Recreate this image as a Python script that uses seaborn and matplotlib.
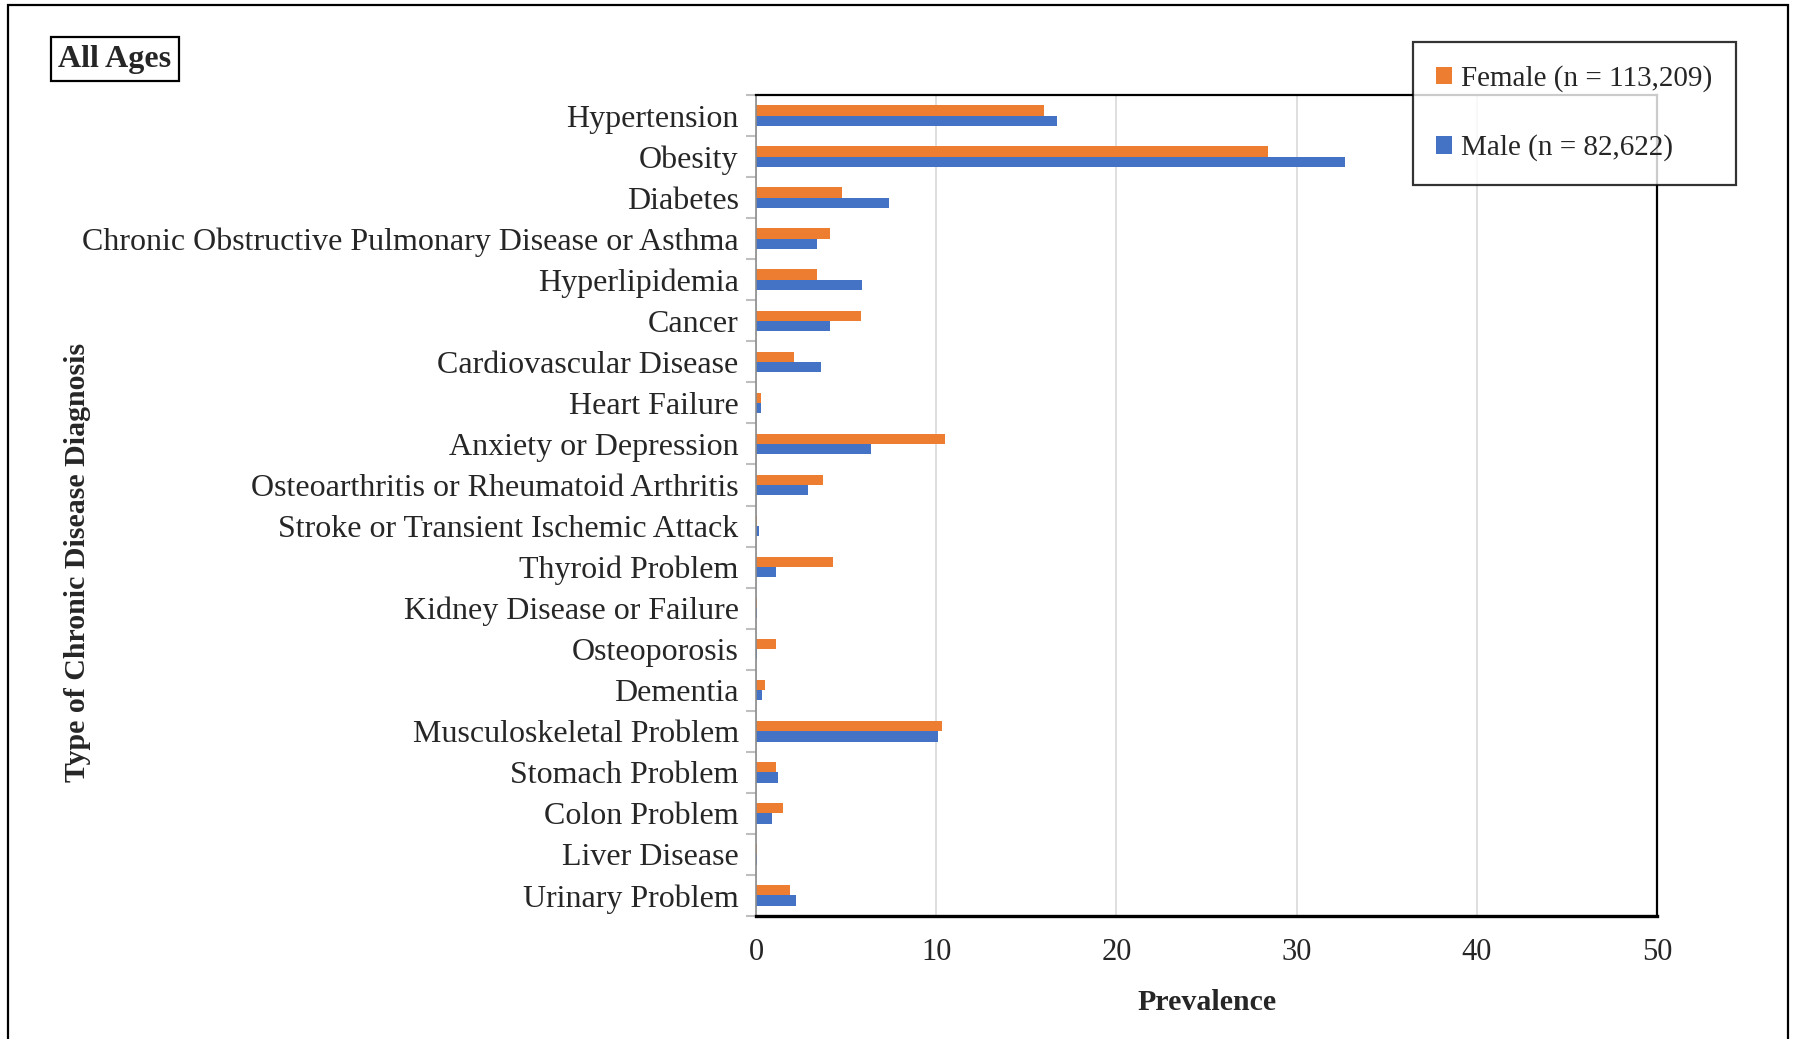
import numpy as np
import pandas as pd
import matplotlib
matplotlib.use("Agg")
import matplotlib.pyplot as plt
import seaborn as sns
from matplotlib.patches import Rectangle

# data
diagnoses = [
    "Hypertension", "Obesity", "Diabetes",
    "Chronic Obstructive Pulmonary Disease or Asthma", "Hyperlipidemia",
    "Cancer", "Cardiovascular Disease", "Heart Failure",
    "Anxiety or Depression", "Osteoarthritis or Rheumatoid Arthritis",
    "Stroke or Transient Ischemic Attack", "Thyroid Problem",
    "Kidney Disease or Failure", "Osteoporosis", "Dementia",
    "Musculoskeletal Problem", "Stomach Problem", "Colon Problem",
    "Liver Disease", "Urinary Problem",
]
female = [16.0, 28.4, 4.8, 4.1, 3.4, 5.8, 2.1, 0.25, 10.5, 3.7,
          0.06, 4.3, 0.08, 1.1, 0.5, 10.3, 1.1, 1.5, 0.04, 1.9]
male = [16.7, 32.7, 7.4, 3.4, 5.9, 4.1, 3.6, 0.25, 6.4, 2.9,
        0.15, 1.1, 0.08, 0.08, 0.35, 10.1, 1.2, 0.9, 0.08, 2.2]
groups = ["Female (n = 113,209)", "Male (n = 82,622)"]
colors = ["#ED7D31", "#4472C4"]

df = pd.DataFrame({
    "diagnosis": diagnoses * 2,
    "prevalence": female + male,
    "group": [groups[0]] * len(diagnoses) + [groups[1]] * len(diagnoses),
})

sns.set_style("white")
plt.rcParams["font.family"] = ["Liberation Serif", "DejaVu Serif"]

W, H = 1796, 1039
fig = plt.figure(figsize=(W / 100, H / 100), dpi=100)
ax = fig.add_axes([756 / W, 1 - 916 / H, (1657 - 756) / W, (916 - 95) / H])

sns.barplot(data=df, x="prevalence", y="diagnosis", hue="group",
            hue_order=groups, palette=colors, saturation=1, orient="h",
            width=0.5, linewidth=0, errorbar=None, ax=ax)

ax.set_xlim(0, 50)
ax.set_ylim(len(diagnoses) - 0.5, -0.5)
ax.set_xticks(range(0, 51, 10))
ax.grid(axis="x", color="#D9D9D9", linewidth=1.2)
ax.set_axisbelow(True)

fs = 23
ax.tick_params(axis="y", which="major", left=False, pad=9, labelsize=fs)
ax.tick_params(axis="x", length=0, pad=16, labelsize=22)
# small grey ticks between categories, like the original
ax.set_yticks(np.arange(-0.5, len(diagnoses), 1), minor=True)
ax.tick_params(axis="y", which="minor", left=True, length=7, width=1.5,
               color="#BFBFBF")

for side in ["top", "right", "bottom"]:
    ax.spines[side].set_visible(True)
    ax.spines[side].set_color("black")
    ax.spines[side].set_linewidth(1.6)
ax.spines["bottom"].set_linewidth(2.4)
ax.spines["left"].set_color("#8C8C8C")
ax.spines["left"].set_linewidth(1.2)

ax.set_ylabel("")
ax.set_xlabel("Prevalence", fontsize=21.5, fontweight="bold", labelpad=16)
fig.text(78 / W, 1 - 562 / H, "Type of Chronic Disease Diagnosis",
         rotation=90, ha="center", va="center", fontsize=21.5,
         fontweight="bold")

fig.text(115 / W, 1 - 59 / H, "All Ages", ha="center", va="center",
         fontsize=23, fontweight="bold",
         bbox=dict(boxstyle="square,pad=0.22", fc="white", ec="black", lw=1.6))

ax.legend_.remove()
handles, labels = ax.get_legend_handles_labels()
leg = fig.legend(handles, labels, loc="upper left",
                 bbox_to_anchor=(1413 / W, 1 - 42 / H), fontsize=21,
                 frameon=True, fancybox=False, edgecolor="black",
                 handlelength=0.55, handleheight=0.55, handletextpad=0.3,
                 labelspacing=1.45, borderpad=0.8, borderaxespad=0)
leg.get_frame().set_linewidth(1.6)

fig.patches.append(Rectangle((8 / W, -0.02), (1788 - 8) / W, 1 - 5 / H + 0.02,
                             transform=fig.transFigure, fill=False,
                             edgecolor="black", linewidth=1.6, zorder=0))

fig.savefig("out.png", dpi=100)
